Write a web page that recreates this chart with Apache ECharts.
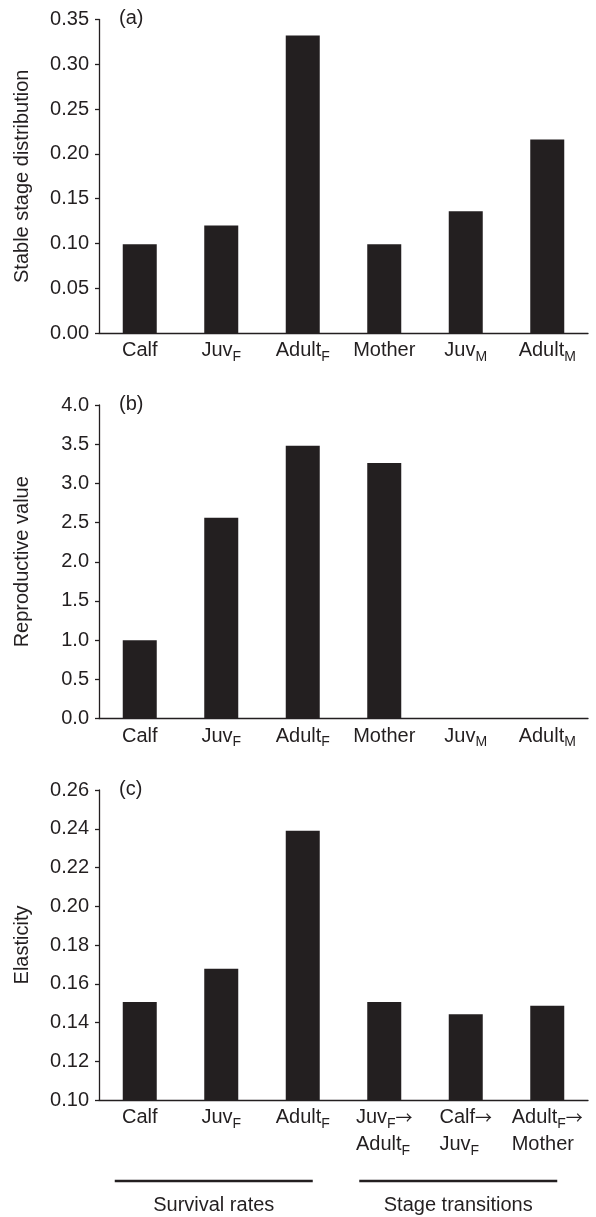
<!DOCTYPE html>
<html><head><meta charset="utf-8">
<script src="https://cdn.jsdelivr.net/npm/echarts@6/dist/echarts.min.js"></script>
<style>html,body{margin:0;padding:0;background:#fff}#c{width:596px;height:1217px}</style>
</head><body><div id="c"></div>
<script>
// ---- data ----
const stagesAB = ['Calf', 'Juv_F', 'Adult_F', 'Mother', 'Juv_M', 'Adult_M'];
const stableStage = [0.099, 0.120, 0.332, 0.099, 0.136, 0.216];
const reproValue = [1.00, 2.56, 3.48, 3.26, 0, 0];
const elastCats = ['Calf', 'Juv_F', 'Adult_F', 'Juv_F→\nAdult_F', 'Calf→\nJuv_F', 'Adult_F→\nMother'];
const elasticity = [0.1506, 0.1677, 0.239, 0.1506, 0.1443, 0.1486];
const axisA = { min: 0, max: 0.35, interval: 0.05, dec: 2, name: 'Stable stage distribution' };
const axisB = { min: 0, max: 4.0, interval: 0.5, dec: 1, name: 'Reproductive value' };
const axisC = { min: 0.10, max: 0.26, interval: 0.02, dec: 2, name: 'Elasticity' };
const panelLabels = ['(a)', '(b)', '(c)'];
const groups = [
  { name: 'Survival rates', from: 0, to: 2 },
  { name: 'Stage transitions', from: 3, to: 5 }
];

// ---- style ----
const INK = '#231f20';
const FONT = '"Liberation Sans", Arial, Helvetica, sans-serif';
const grids = [
  { left: 99, right: 8, top: 19.5, height: 313.5 },
  { left: 99, right: 8, top: 405, height: 313.5 },
  { left: 99, right: 8, top: 790, height: 310 }
];

function toRich(label) {
  return label.split('\n').map(line => {
    let s = '{n|' + line.replace(/_([A-Z])/g, '}{s|$1}{n|').replace(/→/g, '}{a|→}{n|') + '}';
    return s.replace(/\{n\|\}/g, '');
  }).join('\n');
}

const rich = {
  n: { fontFamily: FONT, fontSize: 20, color: INK, lineHeight: 27, align: 'left' },
  a: { fontFamily: '"Noto Sans CJK JP", "DejaVu Sans", sans-serif', fontSize: 17, color: INK, lineHeight: 27, align: 'left' },
  s: { fontFamily: FONT, fontSize: 14, color: INK, lineHeight: 11, verticalAlign: 'bottom', align: 'left' }
};

function xAxisFor(i, cats) {
  return {
    type: 'category', gridIndex: i, data: cats,
    axisTick: { show: false },
    axisLine: { show: true, lineStyle: { color: INK, width: 1.3 } },
    axisLabel: { interval: 0, margin: 4, formatter: v => toRich(v), rich: rich, color: INK }
  };
}
function yAxisFor(i, a) {
  return {
    type: 'value', gridIndex: i, min: a.min, max: a.max, interval: a.interval,
    name: a.name, nameLocation: 'middle', nameGap: 67,
    nameTextStyle: { fontFamily: FONT, fontSize: 20, color: INK },
    splitLine: { show: false },
    axisLine: { show: true, lineStyle: { color: INK, width: 1.3 } },
    axisTick: { show: true, length: 4, lineStyle: { color: INK, width: 1.3 } },
    axisLabel: { margin: 10, fontFamily: FONT, fontSize: 20, color: INK,
      formatter: v => Number(v).toFixed(a.dec) }
  };
}
function barSeries(i, data) {
  return { type: 'bar', xAxisIndex: i, yAxisIndex: i, data: data, barWidth: 34, clip: true,
    itemStyle: { color: INK }, silent: true };
}

const chart = echarts.init(document.getElementById('c'), null, { renderer: 'canvas' });
chart.setOption({
  animation: false,
  backgroundColor: '#fff',
  grid: grids.map(g => Object.assign({ containLabel: false, outerBoundsMode: 'none' }, g)),
  xAxis: [xAxisFor(0, stagesAB), xAxisFor(1, stagesAB), xAxisFor(2, elastCats)],
  yAxis: [yAxisFor(0, axisA), yAxisFor(1, axisB), yAxisFor(2, axisC)],
  series: [barSeries(0, stableStage), barSeries(1, reproValue), barSeries(2, elasticity)],
  graphic: panelLabels.map((t, i) => ({
    type: 'text', id: 'pl' + i, left: grids[i].left + 20, top: grids[i].top - 11,
    style: { text: t, fontFamily: FONT, fontSize: 20, fill: INK }
  }))
});

// group annotation lines under panel (c), positioned through the category axis scale
const bottomC = grids[2].top + grids[2].height;
const extra = [];
groups.forEach((g, k) => {
  const x0 = chart.convertToPixel({ xAxisIndex: 2 }, g.from) - 25;
  const x1 = chart.convertToPixel({ xAxisIndex: 2 }, g.to) + 10;
  extra.push({ type: 'line', id: 'gl' + k,
    shape: { x1: x0, y1: bottomC + 81, x2: x1, y2: bottomC + 81 },
    style: { stroke: INK, lineWidth: 2.5 } });
  extra.push({ type: 'text', id: 'gt' + k, x: (x0 + x1) / 2, y: bottomC + 105,
    style: { text: g.name, fontFamily: FONT, fontSize: 20, fill: INK, align: 'center', verticalAlign: 'middle' } });
});
chart.setOption({ graphic: extra });
</script>
</body></html>
